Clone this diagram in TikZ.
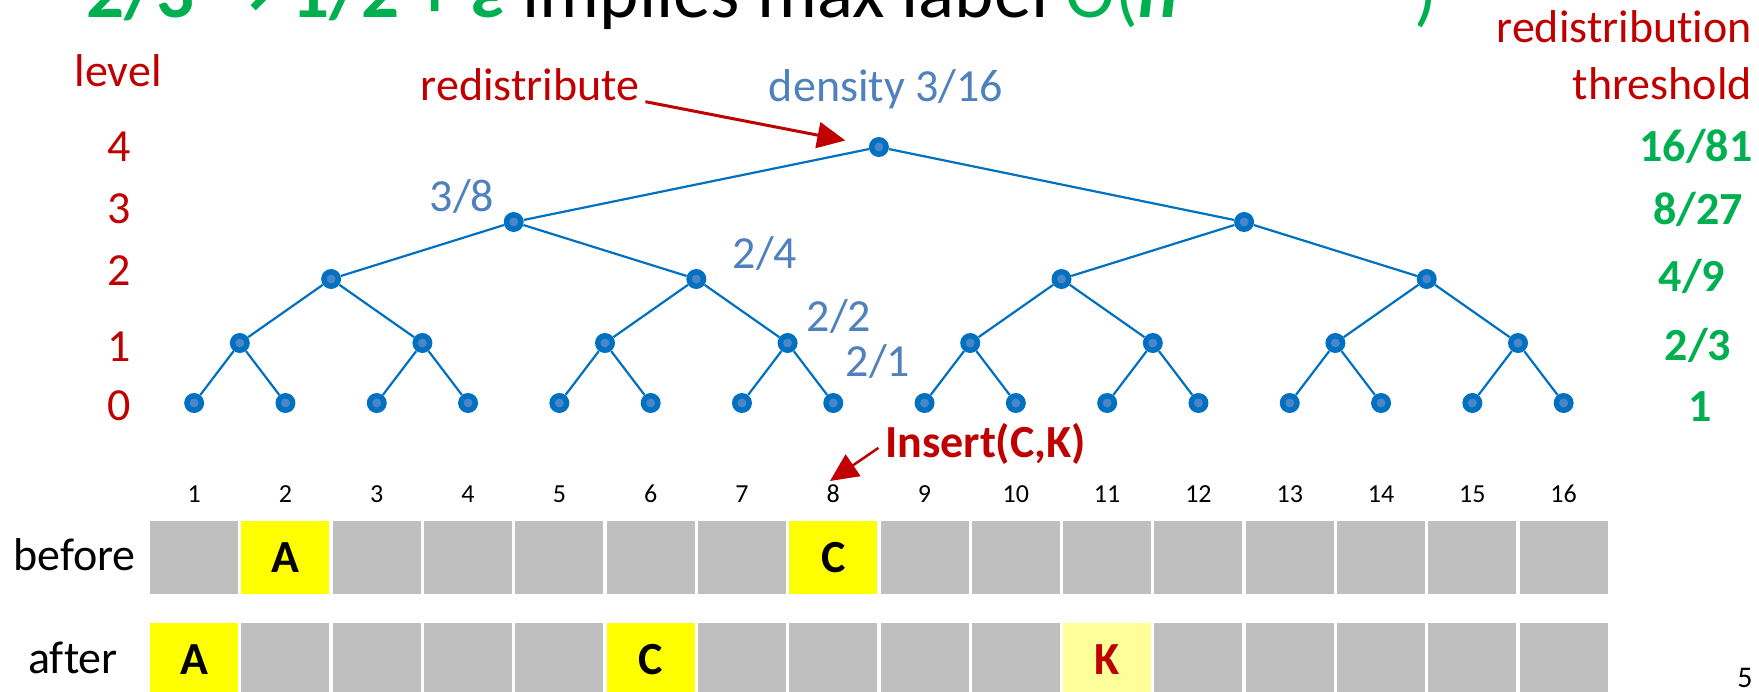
\documentclass[tikz,border=0pt]{standalone}
\usepackage{fontspec}
\setmainfont{Carlito}[Ligatures=NoCommon]
\newfontfamily\arrowfont{DejaVu Sans}
\usepackage{xcolor}
\usetikzlibrary{arrows.meta}

\definecolor{lvlred}{HTML}{C00000}
\definecolor{thrgreen}{HTML}{00B050}
\definecolor{denblue}{HTML}{4F81BD}
\definecolor{treeblue}{HTML}{0070C0}
\definecolor{dotblue}{HTML}{4A86C8}
\definecolor{cellgray}{HTML}{BFBFBF}
\definecolor{cellyellow}{HTML}{FFFF00}
\definecolor{celllight}{HTML}{FFFF99}

\newcommand{\fsz}[1]{\fontsize{#1}{#1}\selectfont}

\begin{document}
\begin{tikzpicture}[x=1pt, y=-1pt, every node/.style={inner sep=0pt},
	tnode/.style={circle, fill=treeblue, minimum size=20pt, path picture={\fill[dotblue] (path picture bounding box.center) circle (4.5pt);}},
	tedge/.style={treeblue, line width=2.2pt},
	cell/.style={fill=cellgray, minimum width=88pt, minimum height=73pt, font=\fsz{46}\bfseries},
	redarrow/.style={lvlred, line width=3pt, -{Triangle[length=28pt,width=26pt]}},
	lvl/.style={lvlred, font=\fsz{46}, anchor=base},
	dens/.style={denblue, font=\fsz{46}, anchor=base},
	thr/.style={thrgreen, font=\fsz{46}\bfseries, anchor=base}]
		\useasboundingbox (0,0) rectangle (1759,691);
		%
		%title (cut off at the top)
		\begin{scope}
			\clip (0,0) rectangle (1759,691);
			\node[anchor=base west, font=\fsz{75}] (title) at (86,17) {{\color{thrgreen}\bfseries 2/3 {\arrowfont →} 1/2 + \textit{ε}} implies max label {\color{thrgreen}O(\textbf{\textit{n}}\raisebox{0.5em}{\fsz{48} 1/log(1+2\textit{ε})})}};
		\end{scope}
		%
		%levels
		\node[lvl] (lvltitle) at (118,86) {level};
		\foreach \l/\yy in {4/161, 3/223, 2/285, 1/361, 0/420}
			\node[lvl] (lvl\l) at (119,\yy) {\l};
		%
		%redistribution thresholds
		\node[lvlred, font=\fsz{46}, anchor=base east] (thrtitle) at (1752,42) {redistribution};
		\node[lvlred, font=\fsz{46}, anchor=base east] (thrtitleb) at (1752,99) {threshold};
		\foreach \t/\xx/\yy [count=\k] in {{16/81}/1696/161, {8/27}/1698/224, {4/9}/1692/291, {2/3}/1698/360, {1}/1700/421}
			\node[thr] (thr\k) at (\xx,\yy) {\t};
		%
		%tree: leaves over the cells
		\foreach \i in {1,...,16}
			\node[tnode] (n0-\i) at ({194.15+91.3*(\i-1)},403) {};
		\foreach \l/\n/\yy in {1/8/343, 2/4/279, 3/2/222, 4/1/147} {
			\foreach \j in {1,...,\n} {
				\pgfmathsetmacro\xx{194.15+91.3*((\j-1)*2^\l+(2^\l-1)/2)}
				\pgfmathtruncatemacro\c{\l-1}
				\pgfmathtruncatemacro\a{2*\j-1}
				\pgfmathtruncatemacro\b{2*\j}
				\node[tnode] (n\l-\j) at (\xx,\yy) {};
				\draw[tedge] (n\l-\j) -- (n\c-\a) (n\l-\j) -- (n\c-\b);
			}
		}
		%
		%densities
		\node[dens] (den4) at (886,101) {density 3/16};
		\node[dens] (den3) at (462,211) {3/8};
		\node[dens] (den2) at (765,268) {2/4};
		\node[dens] (den1) at (839,331) {2/2};
		\node[dens] (den0) at (878,376) {2/1};
		%
		%redistribute
		\node[lvl] (redist) at (530,100) {redistribute};
		\draw[redarrow, shorten <=6pt, shorten >=24pt] (redist.south east) -- (n4-1);
		%
		%Insert(C,K)
		\node[lvlred, font=\fsz{46}\bfseries, anchor=base west] (ins) at (885,457) {Insert(C,K)};
		\coordinate (instip) at (830,481);
		\draw[redarrow, line width=2.5pt, shorten <=8pt] (ins.west) -- (instip);
		%
		%cells
		\foreach \i in {1,...,16} {
			\node[font=\fsz{26}, anchor=base] (num\i) at ({194.15+91.3*(\i-1)},502) {\i};
			\node[cell] (b\i) at ({194.15+91.3*(\i-1)},557.5) {};
			\node[cell] (a\i) at ({194.15+91.3*(\i-1)},659.5) {};
		}
		\node[cell, fill=cellyellow] (bA) at (b2) {A};
		\node[cell, fill=cellyellow] (bC) at (b8) {C};
		\node[cell, fill=cellyellow] (aA) at (a1) {A};
		\node[cell, fill=cellyellow] (aC) at (a6) {C};
		\node[cell, fill=celllight, text=lvlred] (aK) at (a11) {K};
		\node[font=\fsz{46}, anchor=base east] (before) at (136,570) {before};
		\node[font=\fsz{46}, anchor=base] (after) at (73,673) {after};
		%
		%slide number
		\node[font=\fsz{30}, anchor=base] (slide) at (1745,687) {5};
	\end{tikzpicture}
\end{document}
